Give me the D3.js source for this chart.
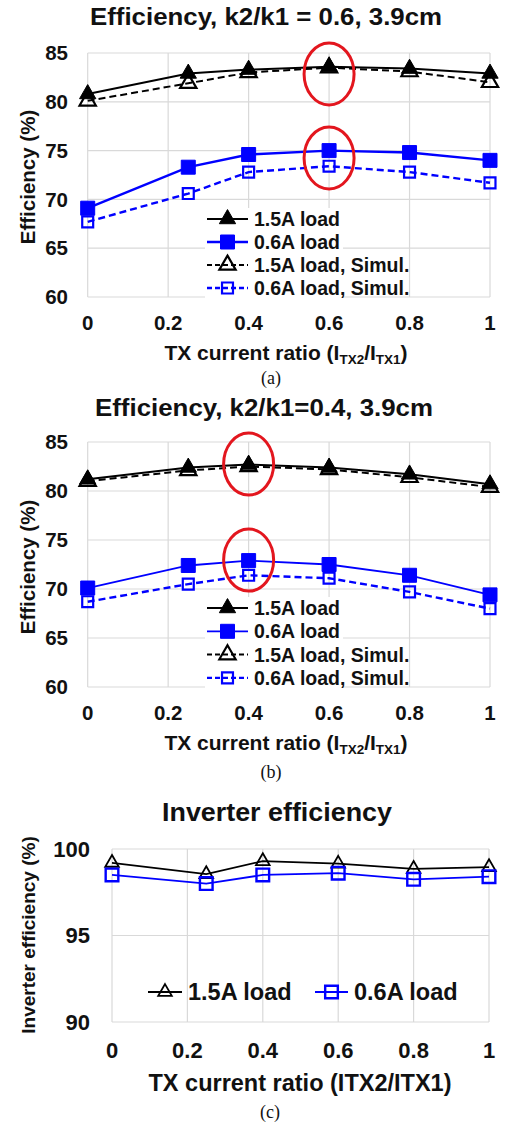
<!DOCTYPE html>
<html>
<head>
<meta charset="utf-8">
<script src="https://cdn.jsdelivr.net/npm/d3@7"></script>
<style>
  body { margin: 0; background: #fff; }
  text { font-family: "Liberation Sans", Arial, sans-serif; font-weight: bold; fill: #111; }
  .cap { font-family: "Liberation Serif", "Times New Roman", serif; font-weight: normal; }
</style>
</head>
<body>
<div id="chart"></div>
<script>
// TX current ratio (x values shared by all panels)
let ratio = [0, 0.25, 0.4, 0.6, 0.8, 1];
let xTicks = [0, 0.2, 0.4, 0.6, 0.8, 1];

// (a) k2/k1 = 0.6
let a_15 = [80.8, 82.9, 83.3, 83.6, 83.4, 82.9];
let a_06 = [69.1, 73.3, 74.6, 75.0, 74.8, 74.0];
let a_15sim = [80.1, 81.9, 83.0, 83.5, 83.1, 82.0];
let a_06sim = [67.7, 70.6, 72.8, 73.4, 72.8, 71.7];
let a_marks = [[0.6, 82.85], [0.6, 74.25]];

// (b) k2/k1 = 0.4
let b_15 = [81.2, 82.4, 82.7, 82.4, 81.7, 80.7];
let b_06 = [70.1, 72.4, 72.9, 72.5, 71.4, 69.4];
let b_15sim = [81.0, 82.1, 82.5, 82.2, 81.4, 80.4];
let b_06sim = [68.7, 70.5, 71.4, 71.1, 69.7, 68.0];
let b_marks = [[0.4, 82.75], [0.4, 72.95]];

// (c) inverter efficiency
let c_15 = [99.2, 98.55, 99.3, 99.15, 98.85, 98.95];
let c_06 = [98.5, 98.0, 98.5, 98.6, 98.25, 98.4];

let effTicks = [60, 65, 70, 75, 80, 85];
let invTicks = [90, 95, 100];

let names = ["1.5A load", "0.6A load", "1.5A load, Simul.", "0.6A load, Simul."];
let blue = "#0000ff";

var svg = d3.select("#chart")
  .append("svg")
    .attr("width", 507)
    .attr("height", 1125);

function triangle(size) { return d3.symbol().type(d3.symbolTriangle).size(size)(); }
function square(size) { return d3.symbol().type(d3.symbolSquare).size(size)(); }

// one panel: box = {x0, x1, yTop, yBot}, domain for y, series list
function drawPanel(box, yDomain, yTicks, series, opt) {
  let g = svg.append("g");
  let x = d3.scaleLinear().domain([0, 1]).range([box.x0, box.x1]);
  let y = d3.scaleLinear().domain(yDomain).range([box.yBot, box.yTop]);

  // gridlines
  g.selectAll(".hg").data(yTicks).enter().append("line")
    .attr("x1", box.x0).attr("x2", box.x1)
    .attr("y1", d => y(d)).attr("y2", d => y(d))
    .attr("stroke", "#d9d9d9").attr("stroke-width", 1.2);
  g.selectAll(".vg").data(xTicks).enter().append("line")
    .attr("x1", d => x(d)).attr("x2", d => x(d))
    .attr("y1", box.yTop).attr("y2", box.yBot)
    .attr("stroke", "#d9d9d9").attr("stroke-width", 1.2);

  // tick labels
  g.selectAll(".yl").data(yTicks).enter().append("text")
    .attr("x", opt.yLabX).attr("y", d => y(d) + opt.tickFont * 0.35)
    .attr("text-anchor", "end")
    .style("font-size", opt.tickFont + "px")
    .text(d => d);
  g.selectAll(".xl").data(xTicks).enter().append("text")
    .attr("x", d => x(d)).attr("y", box.yBot + opt.xLabDy)
    .attr("text-anchor", "middle")
    .style("font-size", opt.tickFont + "px")
    .text(d => d);

  // legend background
  if (opt.legendBg) {
    g.append("rect")
      .attr("x", opt.legendBg[0]).attr("y", opt.legendBg[1])
      .attr("width", opt.legendBg[2]).attr("height", opt.legendBg[3])
      .attr("fill", "#fff");
  }

  // series lines and markers
  let line = d3.line().x((d, i) => x(ratio[i])).y(d => y(d));
  series.forEach(s => {
    g.append("path")
      .attr("d", line(s.values))
      .attr("fill", "none")
      .attr("stroke", s.color)
      .attr("stroke-width", s.width)
      .attr("stroke-dasharray", s.dash || null);
    g.selectAll(null).data(s.values).enter().append("path")
      .attr("transform", (d, i) => `translate(${x(ratio[i])},${y(d)})`)
      .attr("d", s.shape)
      .attr("fill", s.filled ? s.color : "none")
      .attr("stroke", s.color)
      .attr("stroke-width", s.mWidth);
  });

  // red highlight circles
  if (opt.marks) {
    g.selectAll(".mk").data(opt.marks).enter().append("ellipse")
      .attr("cx", d => x(d[0])).attr("cy", d => y(d[1]))
      .attr("rx", 25).attr("ry", 31)
      .attr("fill", "none").attr("stroke", "#e3161e").attr("stroke-width", 3);
  }

  return {x: x, y: y, g: g};
}

function legendRow(g, s, lx0, lx1, ly, label, font) {
  g.append("line")
    .attr("x1", lx0).attr("x2", lx1).attr("y1", ly).attr("y2", ly)
    .attr("stroke", s.color).attr("stroke-width", s.width)
    .attr("stroke-dasharray", s.dash ? "5,3" : null);
  g.append("path")
    .attr("transform", `translate(${(lx0 + lx1) / 2},${ly})`)
    .attr("d", s.shape)
    .attr("fill", s.filled ? s.color : "none")
    .attr("stroke", s.color).attr("stroke-width", s.mWidth);
  g.append("text")
    .attr("x", lx1 + 6).attr("y", ly + font * 0.36)
    .style("font-size", font + "px")
    .text(label);
}

function xTitleSub(yBase, cx, size, subSize) {
  let t = svg.append("text")
    .attr("x", cx).attr("y", yBase)
    .attr("text-anchor", "middle")
    .style("font-size", size + "px");
  t.append("tspan").text("TX current ratio (I");
  t.append("tspan").attr("dy", 4).style("font-size", subSize + "px").text("TX2");
  t.append("tspan").attr("dy", -4).text("/I");
  t.append("tspan").attr("dy", 4).style("font-size", subSize + "px").text("TX1");
  t.append("tspan").attr("dy", -4).text(")");
}

function yTitle(cx, cy, size, label) {
  svg.append("text")
    .attr("transform", `translate(${cx},${cy}) rotate(-90)`)
    .attr("text-anchor", "middle")
    .attr("dy", size * 0.35)
    .style("font-size", size + "px")
    .text(label);
}

function title(cx, cy, size, len, label) {
  svg.append("text").attr("x", cx).attr("y", cy).attr("text-anchor", "middle")
    .attr("textLength", len).attr("lengthAdjust", "spacingAndGlyphs")
    .style("font-size", size + "px").text(label);
}

function effSeries(v15, v06, v15s, v06s) {
  return [
    {values: v15s, color: "#000", width: 2, dash: "7,4", shape: triangle(115), filled: false, mWidth: 2.2},
    {values: v06s, color: blue, width: 2.4, dash: "7,4", shape: square(120), filled: false, mWidth: 2.2},
    {values: v15, color: "#000", width: 2, shape: triangle(115), filled: true, mWidth: 1},
    {values: v06, color: blue, width: 2.4, shape: square(196), filled: true, mWidth: 1}
  ];
}

// ---------- panel (a) ----------
title(266, 25, 24, 352, "Efficiency, k2/k1 = 0.6, 3.9cm");
let sa = effSeries(a_15, a_06, a_15sim, a_06sim);
let pa = drawPanel({x0: 87.7, x1: 490, yTop: 53, yBot: 297}, [60, 85], effTicks, sa,
  {yLabX: 68, tickFont: 20.5, xLabDy: 33, marks: a_marks, legendBg: [205, 208, 138, 90]});
[sa[2], sa[3], sa[0], sa[1]].forEach((s, i) =>
  legendRow(pa.g, s, 207, 248, 219 + i * 23, names[i], 19.5));
yTitle(28, 177, 20.5, "Efficiency (%)");
xTitleSub(360, 286, 21, 13.5);
svg.append("text").attr("class", "cap").attr("x", 271).attr("y", 384)
  .attr("text-anchor", "middle").style("font-size", "18px").text("(a)");

// ---------- panel (b) ----------
title(264, 416, 24, 338, "Efficiency, k2/k1=0.4, 3.9cm");
let sb = effSeries(b_15, b_06, b_15sim, b_06sim);
sb[3].width = 1.8;
let pb = drawPanel({x0: 87.7, x1: 490, yTop: 442, yBot: 687}, [60, 85], effTicks, sb,
  {yLabX: 68, tickFont: 20.5, xLabDy: 33, marks: b_marks, legendBg: [205, 597, 138, 92]});
[sb[2], sb[3], sb[0], sb[1]].forEach((s, i) =>
  legendRow(pb.g, s, 207, 248, 608 + i * 23.3, names[i], 19.5));
yTitle(28, 567, 20.5, "Efficiency (%)");
xTitleSub(750, 286, 21, 13.5);
svg.append("text").attr("class", "cap").attr("x", 271).attr("y", 778)
  .attr("text-anchor", "middle").style("font-size", "18px").text("(b)");

// ---------- panel (c) ----------
title(277, 821, 26, 230, "Inverter efficiency");
let sc = [
  {values: c_15, color: "#000", width: 1.8, shape: triangle(80), filled: false, mWidth: 1.8},
  {values: c_06, color: blue, width: 1.8, shape: square(160), filled: false, mWidth: 2.4}
];
let pc = drawPanel({x0: 112, x1: 489, yTop: 849, yBot: 1022}, [90, 100], invTicks, sc,
  {yLabX: 90, tickFont: 22, xLabDy: 36});
legendRow(pc.g, sc[0], 148, 182, 992, "1.5A load", 23.5);
legendRow(pc.g, sc[1], 315, 348, 992, "0.6A load", 23.5);
yTitle(28, 935, 19, "Inverter efficiency (%)");
svg.append("text").attr("x", 300).attr("y", 1091).attr("text-anchor", "middle")
  .style("font-size", "23.5px").text("TX current ratio (ITX2/ITX1)");
svg.append("text").attr("class", "cap").attr("x", 270).attr("y", 1118)
  .attr("text-anchor", "middle").style("font-size", "18px").text("(c)");
</script>
</body>
</html>
